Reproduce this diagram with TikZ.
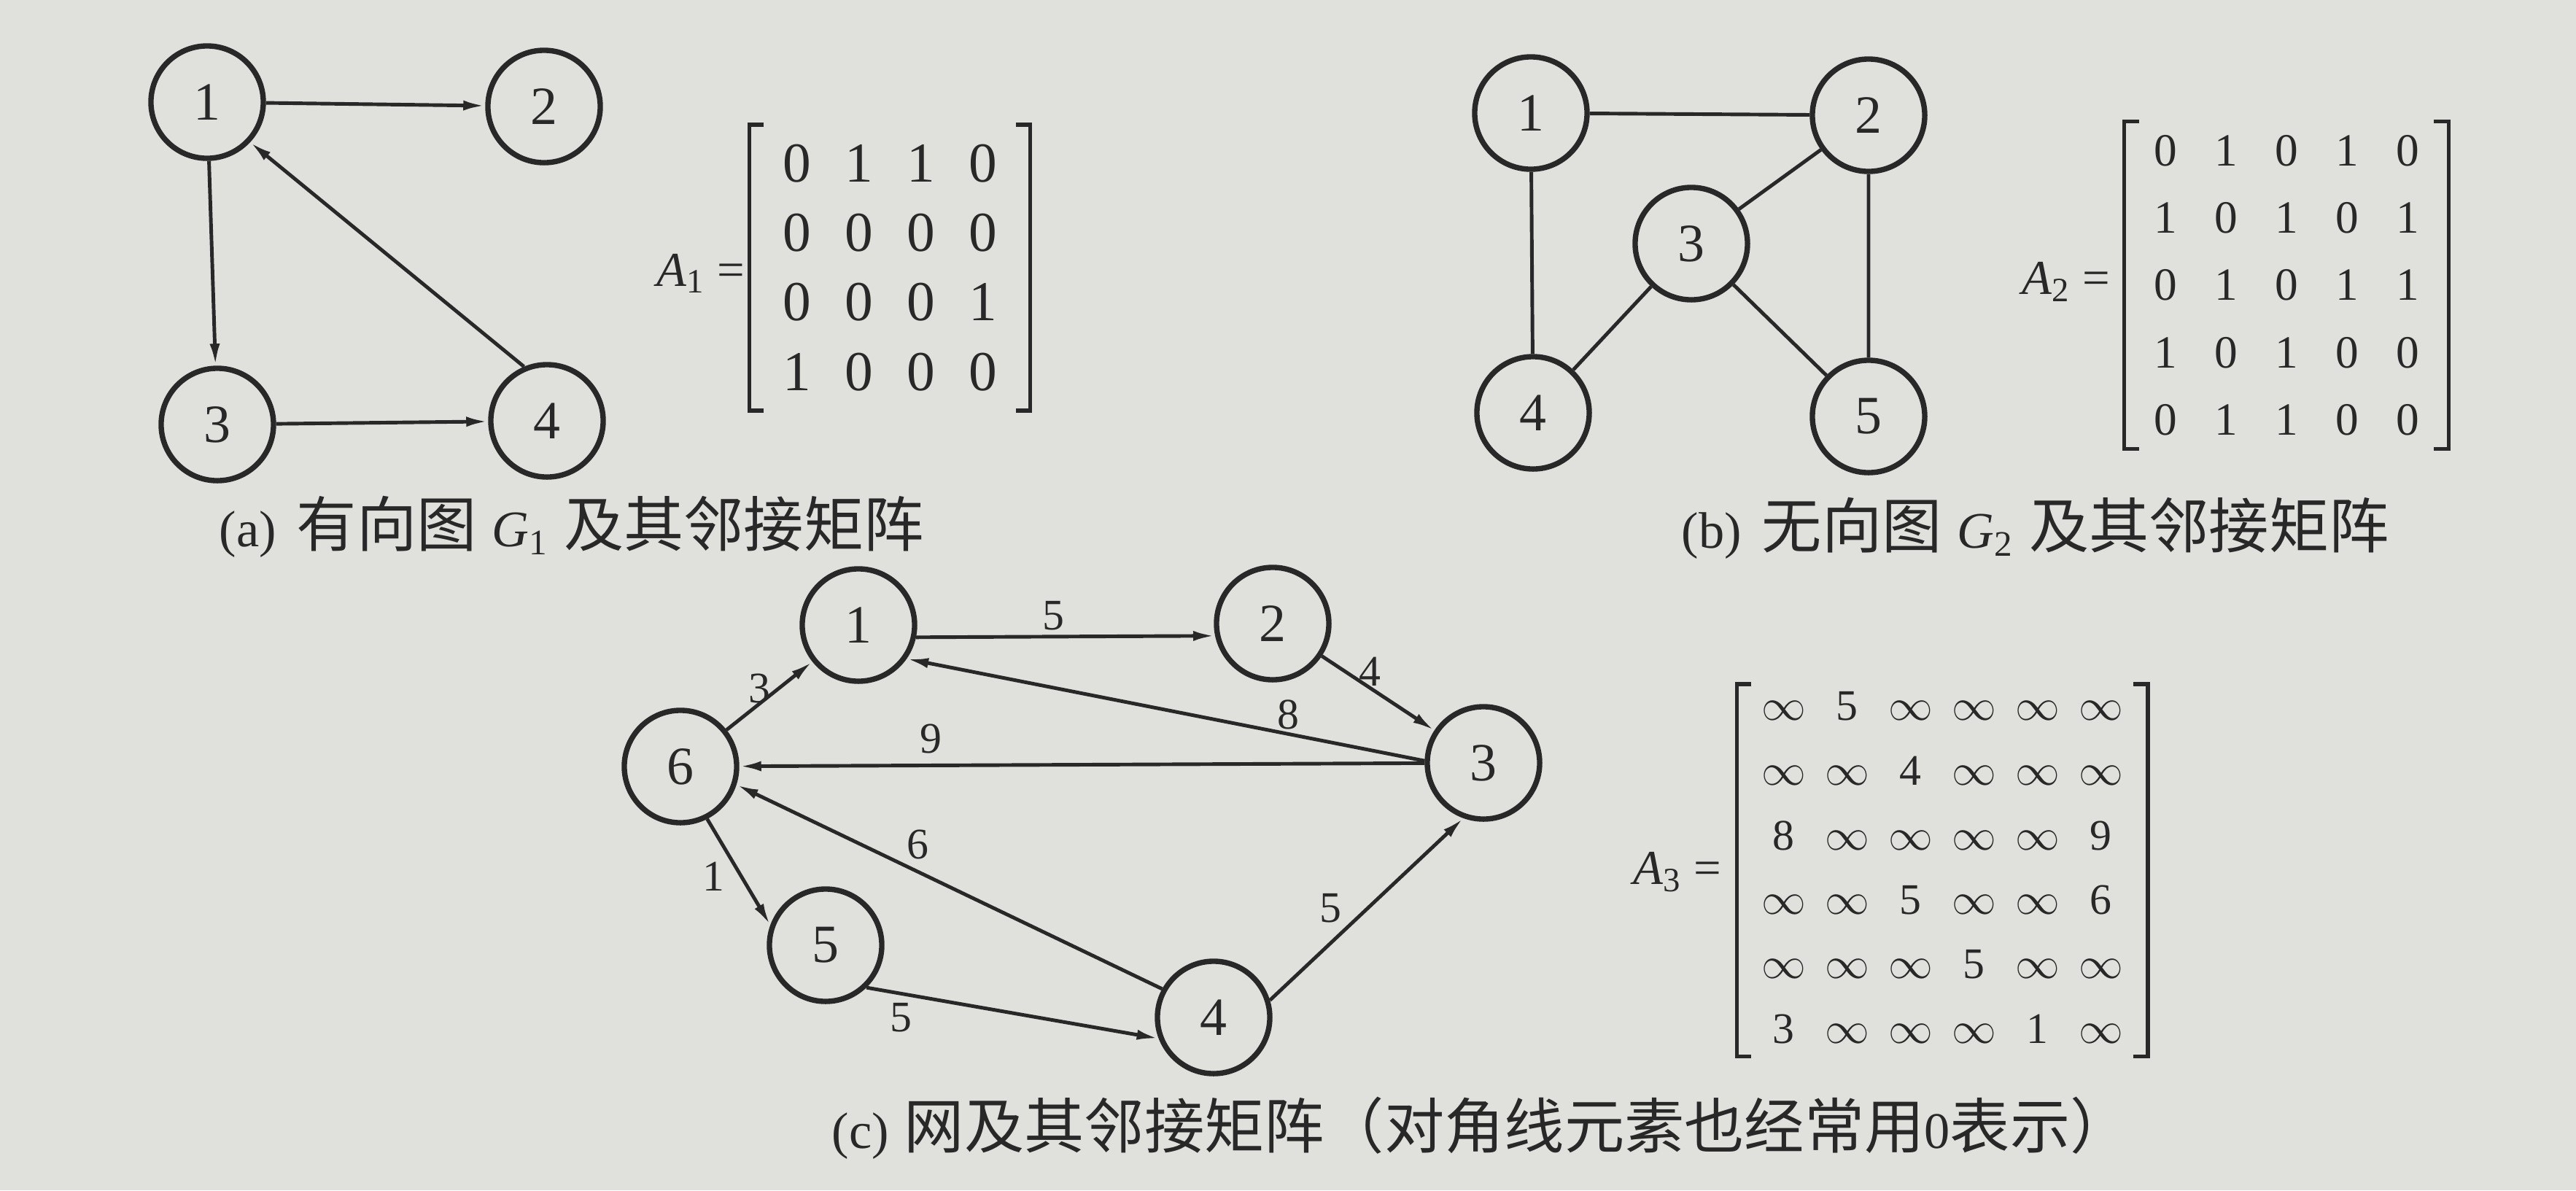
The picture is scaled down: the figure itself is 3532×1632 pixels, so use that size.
\documentclass[tikz,border=0pt]{standalone}
\usepackage{fontspec}
\setmainfont{Liberation Serif}
\newfontfamily\cjk{Noto Sans CJK SC}[Scale=1.17]
\usepackage{xcolor}
\usetikzlibrary{arrows.meta,matrix}
\definecolor{ink}{RGB}{40,40,40}
\definecolor{paper}{RGB}{224,225,221}
\newcommand{\brackets}[1]{%
  \draw[brk] ([xshift=0.2cm]#1.north west) -- (#1.north west) -- (#1.south west) -- ([xshift=0.2cm]#1.south west);
  \draw[brk] ([xshift=-0.2cm]#1.north east) -- (#1.north east) -- (#1.south east) -- ([xshift=-0.2cm]#1.south east);}

\begin{document}
\begin{tikzpicture}[x=0.01cm, y=-0.01cm, color=ink,
    vtx/.style={circle, draw, line width=2.1pt, minimum size=1.54cm, inner sep=0pt, font=\fontsize{21}{22}\selectfont},
    link/.style={line width=1.4pt},
    dirlink/.style={link, -{Latex[length=0.3cm,width=0.14cm]}},
    wt/.style={inner sep=1pt, font=\fontsize{17}{18}\selectfont},
    brk/.style={line width=1.5pt},
    mtx/.style={matrix of nodes, inner sep=0pt, column sep=0pt, row sep=0pt},
    lbl/.style={anchor=base east, inner sep=0pt, font=\fontsize{19}{20}\selectfont},
    captxt/.style={anchor=west, inner sep=0pt, font=\fontsize{20}{24}\selectfont}]
    \useasboundingbox (0,0) rectangle (3532,1632);
    \fill[paper] (0,0) rectangle (3532,1632);

    % (a) graphe oriente G1
    \node[vtx] (a1) at (284,140) {1};
    \node[vtx] (a2) at (746,146) {2};
    \node[vtx] (a3) at (298,582) {3};
    \node[vtx] (a4) at (750,577) {4};
    \draw[dirlink] (a1) -- (a2);
    \draw[dirlink] (a1) -- (a3);
    \draw[dirlink] (a3) -- (a4);
    \draw[dirlink] (a4.113) -- (a1.-43);
    \matrix (m1) [mtx, inner xsep=0.22cm, inner ysep=0.15cm, row sep=0.2cm,
        nodes={inner sep=0pt, minimum width=0.85cm, minimum height=0.75cm, font=\fontsize{22}{24}\selectfont}] at (1220,367) {
        0 & 1 & 1 & 0 \\
        0 & 0 & 0 & 0 \\
        0 & 0 & 0 & 1 \\
        1 & 0 & 0 & 0 \\};
    \brackets{m1}
    \node[lbl] (A1) at (1022,392) {\textit{A}\textsubscript{1} =};
    \node[captxt] (capa) at (300,722) {(a)\hspace{0.4em}{\cjk 有向图}\hspace{0.3em}\textit{G}\textsubscript{1}\hspace{0.3em}{\cjk 及其邻接矩阵}};

    % (b) graphe non oriente G2
    \node[vtx] (b1) at (2099,155) {1};
    \node[vtx] (b2) at (2562,158) {2};
    \node[vtx] (b3) at (2319,334) {3};
    \node[vtx] (b4) at (2102,566) {4};
    \node[vtx] (b5) at (2562,571) {5};
    \draw[link] (b1) -- (b2) (b1) -- (b4) (b2) -- (b3) (b2) -- (b5) (b3) -- (b4) (b3) -- (b5);
    \matrix (m2) [mtx, inner xsep=0.14cm, inner ysep=0.03cm, row sep=0.2cm,
        nodes={inner sep=0pt, minimum width=0.83cm, minimum height=0.72cm, font=\fontsize{18}{20}\selectfont}] at (3135,391) {
        0 & 1 & 0 & 1 & 0 \\
        1 & 0 & 1 & 0 & 1 \\
        0 & 1 & 0 & 1 & 1 \\
        1 & 0 & 1 & 0 & 0 \\
        0 & 1 & 1 & 0 & 0 \\};
    \brackets{m2}
    \node[lbl] (A2) at (2894,403) {\textit{A}\textsubscript{2} =};
    \node[captxt] (capb) at (2305,724) {(b)\hspace{0.4em}{\cjk 无向图}\hspace{0.3em}\textit{G}\textsubscript{2}\hspace{0.3em}{\cjk 及其邻接矩阵}};

    % (c) reseau value
    \node[vtx] (c1) at (1177,857) {1};
    \node[vtx] (c2) at (1745,855) {2};
    \node[vtx] (c3) at (2034,1046) {3};
    \node[vtx] (c4) at (1664,1395) {4};
    \node[vtx] (c5) at (1132,1296) {5};
    \node[vtx] (c6) at (933,1051) {6};
    \draw[dirlink] (c1.-12) -- (c2.192);
    \draw[dirlink] (c2) -- (c3);
    \draw[dirlink] (c3.178) -- (c1.-35);
    \draw[dirlink] (c3) -- (c6);
    \draw[dirlink] (c6) -- (c1);
    \draw[dirlink] (c4.151) -- (c6.-18);
    \draw[dirlink] (c6.-63) -- (c5.160);
    \draw[dirlink] (c5.-46) -- (c4.-159);
    \draw[dirlink] (c4.17) -- (c3.-110);
    \node[wt] (w12) at (1444,844) {5};
    \node[wt] (w23) at (1878,921) {4};
    \node[wt] (w31) at (1766,980) {8};
    \node[wt] (w36) at (1276,1013) {9};
    \node[wt] (w61) at (1041,944) {3};
    \node[wt] (w46) at (1258,1158) {6};
    \node[wt] (w65) at (978,1202) {1};
    \node[wt] (w54) at (1235,1395) {5};
    \node[wt] (w43) at (1824,1245) {5};
    \matrix (m3) [mtx, inner xsep=0.2cm, inner ysep=0cm, row sep=0.22cm,
        nodes={inner sep=0pt, minimum width=0.87cm, minimum height=0.6cm, font=\fontsize{17}{18}\selectfont}] at (2663,1193) {
        $\infty$ & 5 & $\infty$ & $\infty$ & $\infty$ & $\infty$ \\
        $\infty$ & $\infty$ & 4 & $\infty$ & $\infty$ & $\infty$ \\
        8 & $\infty$ & $\infty$ & $\infty$ & $\infty$ & 9 \\
        $\infty$ & $\infty$ & 5 & $\infty$ & $\infty$ & 6 \\
        $\infty$ & $\infty$ & $\infty$ & 5 & $\infty$ & $\infty$ \\
        3 & $\infty$ & $\infty$ & $\infty$ & 1 & $\infty$ \\};
    \brackets{m3}
    \node[lbl] (A3) at (2361,1212) {\textit{A}\textsubscript{3} =};
    \node[captxt] (capc) at (1140,1547) {(c)\hspace{0.3em}{\cjk 网及其邻接矩阵（对角线元素也经常用}0{\cjk 表示）}};
\end{tikzpicture}
\end{document}
